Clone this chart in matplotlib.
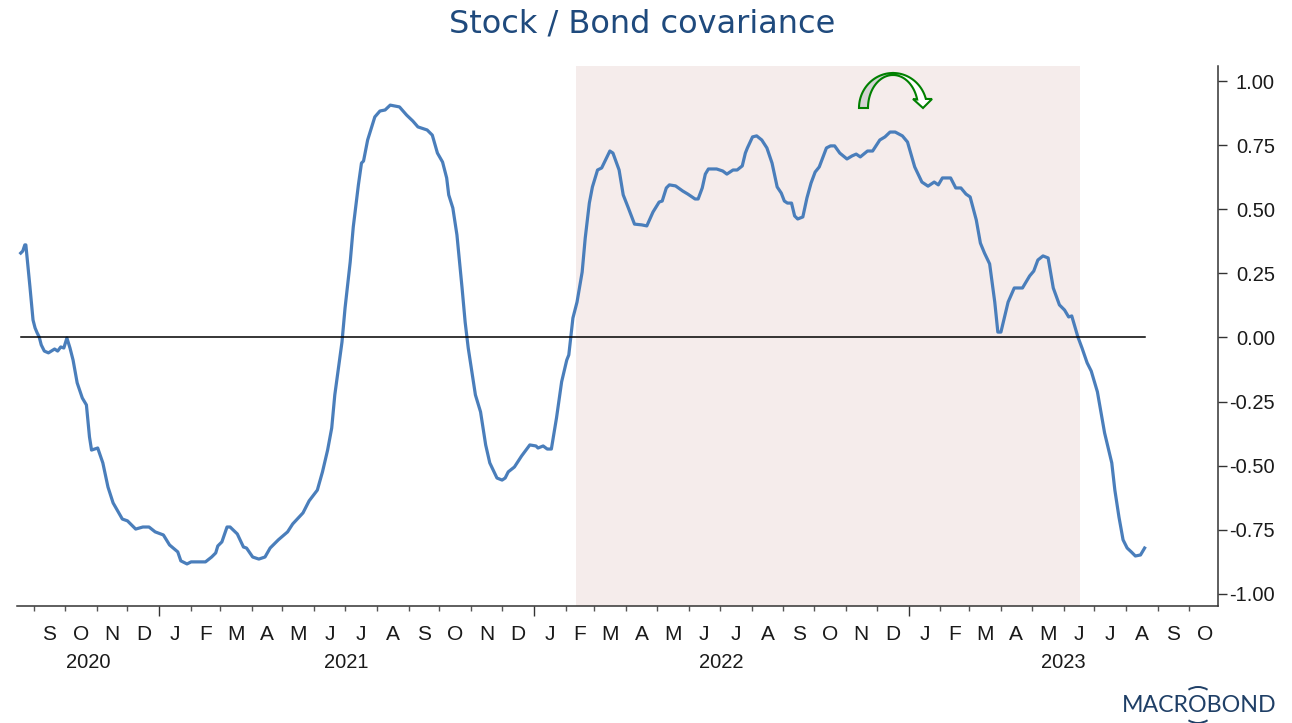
import numpy as np
import pandas as pd
import matplotlib
matplotlib.use("Agg")
import matplotlib.pyplot as plt
import matplotlib.dates as mdates
from matplotlib.patches import Arc, Polygon
from matplotlib.ticker import FixedLocator, FormatStrFormatter
from matplotlib.transforms import blended_transform_factory

plt.rcParams["axes.unicode_minus"] = False

# days counted from 1 Sep 2020, covariance read at each of them
days = [-13, -11, -9, -8, -4, -1, 1, 3, 5, 7, 10, 14, 20, 23, 26, 29, 32, 35, 38, 42, 47, 51, 54, 56, 62,
        67, 72, 77, 86, 91, 99, 106, 112, 118, 126, 132, 140, 143, 149, 153, 167, 173, 177, 179, 183,
        188, 191, 198, 204, 207, 213, 219, 225, 230, 238, 247, 252, 262, 268, 276, 281, 286, 290, 293,
        300, 303, 308, 311, 316, 319, 321, 325, 329, 332, 337, 342, 347, 356, 363, 369, 374, 383, 388,
        393, 398, 402, 404, 408, 412, 417, 420, 423, 430, 435, 440, 444, 451, 456, 459, 462, 468, 475,
        483, 489, 491, 496, 500, 504, 509, 514, 519, 521, 525, 529, 534, 537, 541, 544, 549, 553, 561,
        564, 570, 574, 579, 585, 592, 597, 603, 609, 612, 616, 619, 625, 632, 637, 644, 647, 651, 654,
        657, 665, 671, 675, 681, 685, 690, 693, 695, 700, 704, 709, 714, 719, 724, 728, 731, 734, 738,
        741, 744, 749, 753, 757, 761, 765, 772, 776, 780, 785, 792, 797, 801, 805, 812, 817, 824, 829,
        834, 839, 846, 851, 858, 865, 871, 877, 881, 885, 893, 898, 903, 908, 912, 918, 922, 926, 931,
        936, 939, 942, 949, 955, 963, 970, 974, 978, 983, 988, 993, 999, 1004, 1008, 1011, 1017, 1021,
        1026, 1030, 1036, 1043, 1050, 1053, 1057, 1061, 1065, 1069, 1073, 1078, 1082]
covariance = [0.329, 0.337, 0.361, 0.361, 0.197, 0.068, 0.037, 0.018, 0.002, -0.029, -0.053, -0.060, -0.045,
              -0.053, -0.037, -0.041, -0.002, -0.041, -0.088, -0.177, -0.236, -0.263, -0.388, -0.439, -0.431,
              -0.489, -0.583, -0.645, -0.708, -0.715, -0.747, -0.739, -0.739, -0.758, -0.770, -0.809, -0.836,
              -0.871, -0.883, -0.875, -0.875, -0.856, -0.840, -0.813, -0.797, -0.739, -0.739, -0.766, -0.817,
              -0.821, -0.856, -0.864, -0.856, -0.821, -0.789, -0.758, -0.727, -0.684, -0.637, -0.595, -0.524,
              -0.439, -0.353, -0.224, -0.018, 0.115, 0.294, 0.431, 0.595, 0.680, 0.688, 0.770, 0.821, 0.860,
              0.883, 0.887, 0.906, 0.899, 0.867, 0.844, 0.821, 0.809, 0.789, 0.719, 0.684, 0.622, 0.556, 0.505,
              0.400, 0.193, 0.060, -0.041, -0.224, -0.290, -0.419, -0.489, -0.548, -0.556, -0.548, -0.524,
              -0.505, -0.462, -0.419, -0.423, -0.431, -0.423, -0.435, -0.435, -0.314, -0.173, -0.088, -0.068,
              0.076, 0.138, 0.255, 0.388, 0.524, 0.587, 0.653, 0.661, 0.727, 0.719, 0.653, 0.556, 0.505, 0.442,
              0.439, 0.435, 0.489, 0.528, 0.532, 0.583, 0.595, 0.591, 0.571, 0.559, 0.540, 0.540, 0.583, 0.637,
              0.657, 0.657, 0.649, 0.637, 0.653, 0.653, 0.669, 0.719, 0.739, 0.782, 0.786, 0.770, 0.739, 0.680,
              0.587, 0.563, 0.532, 0.524, 0.524, 0.474, 0.462, 0.470, 0.544, 0.602, 0.645, 0.665, 0.739, 0.747,
              0.747, 0.719, 0.696, 0.708, 0.715, 0.704, 0.727, 0.727, 0.770, 0.782, 0.801, 0.801, 0.786, 0.762,
              0.665, 0.606, 0.590, 0.606, 0.595, 0.622, 0.622, 0.583, 0.583, 0.559, 0.548, 0.458, 0.368, 0.329,
              0.287, 0.138, 0.021, 0.021, 0.138, 0.193, 0.193, 0.240, 0.259, 0.302, 0.318, 0.310, 0.193, 0.127,
              0.107, 0.080, 0.084, 0.002, -0.041, -0.099, -0.131, -0.212, -0.372, -0.489, -0.595, -0.700,
              -0.789, -0.821, -0.836, -0.852, -0.848, -0.821]
y_ticks = [1.00, 0.75, 0.50, 0.25, 0.00, -0.25, -0.50, -0.75, -1.00]
years = [2020, 2021, 2022, 2023]
shade_start = "2022-02-11"
shade_end = "2023-06-17"

BLUE = "#4a7ebb"
NAVY = "#1f4a7d"
LABEL_FONT = "Liberation Sans"

dates = pd.Timestamp("2020-09-01") + pd.to_timedelta(days, unit="D")
x_min = pd.Timestamp("2020-08-15 09:00")
x_max = pd.Timestamp("2023-10-29 12:00")

fig = plt.figure(figsize=(12.92, 7.23), dpi=100)
ax = fig.add_axes([17 / 1292, 1 - 606 / 723, (1218 - 17) / 1292, 540 / 723])

ax.axvspan(pd.Timestamp(shade_start), pd.Timestamp(shade_end), color="#f5eceb", lw=0, zorder=1)
ax.plot(dates, covariance, color=BLUE, lw=2.3, zorder=3, solid_joinstyle="round")
ax.plot([dates[0], dates[-1]], [0, 0], color="black", lw=1.1, zorder=4)

ax.set_xlim(x_min, x_max)
ax.set_ylim(-1.047, 1.0585)

for side in ["top", "left"]:
    ax.spines[side].set_visible(False)
for side in ["bottom", "right"]:
    ax.spines[side].set_color("#333333")
    ax.spines[side].set_linewidth(1.1)

# y axis on the right with right-aligned labels
ax.yaxis.tick_right()
ax.yaxis.set_major_locator(FixedLocator(y_ticks))
ax.yaxis.set_major_formatter(FormatStrFormatter("%.2f"))
ax.tick_params(axis="y", length=6.5, width=1.0, pad=34.5, color="#333333")
for lab in ax.get_yticklabels():
    lab.set_ha("right")
    lab.set_family(LABEL_FONT)
    lab.set_fontsize(14.5)
    lab.set_color("#1a1a1a")

# months as minor ticks, new years as long ones
ax.xaxis.set_major_locator(mdates.YearLocator())
ax.xaxis.set_minor_locator(mdates.MonthLocator())
ax.xaxis.set_major_formatter(plt.NullFormatter())
ax.tick_params(axis="x", which="major", length=7.5, width=1.0, color="#333333")
ax.tick_params(axis="x", which="minor", length=3.5, width=1.0, color="#555555")

trans = blended_transform_factory(ax.transData, ax.transAxes)
month_starts = pd.date_range("2020-09-01", "2023-10-01", freq="MS")
for m in month_starts:
    mid = m + (m + pd.offsets.MonthBegin(1) - m) / 2
    ax.text(mid, -28 / 540, m.strftime("%b")[0], transform=trans, ha="center", va="center",
            family=LABEL_FONT, fontsize=15, color="#1a1a1a")

for yr in years:
    left = max(pd.Timestamp(f"{yr}-01-01"), x_min)
    right = min(pd.Timestamp(f"{yr + 1}-01-01"), x_max)
    ax.text(left + (right - left) / 2, -57 / 540, str(yr), transform=trans, ha="center", va="center",
            family=LABEL_FONT, fontsize=14.5, color="#1a1a1a")

# overlay in pixel units for title, arrow and logo
over = fig.add_axes([0, 0, 1, 1], facecolor="none")
over.set_xlim(0, 1292)
over.set_ylim(723, 0)
over.axis("off")

over.text(642, 33, "Stock / Bond covariance", ha="center", va="baseline", fontsize=23,
          family="DejaVu Sans", color=NAVY)

# curved arrow: grey rising half, white falling half
def ellipse_pts(cx, cy, rx, ry, a0, a1):
    t = np.radians(np.linspace(a0, a1, 40))
    return np.column_stack([cx + rx * np.cos(t), cy - ry * np.sin(t)])

GREEN = "#008000"
rise = np.vstack([ellipse_pts(893, 108, 34, 35, 180, 90), ellipse_pts(893, 108, 25, 33, 90, 180)])
over.add_patch(Polygon(rise, closed=True, fc="#d3d3d3", ec=GREEN, lw=1.5, zorder=5))
outer = ellipse_pts(893, 108, 34, 35, 90, 15)
inner = ellipse_pts(893, 108, 25, 33, 15, 90)
fall = np.vstack([outer, [[932, 99], [923, 108], [913, 99]], inner])
over.add_patch(Polygon(fall, closed=True, fc="white", ec=GREEN, lw=1.5, zorder=5))

over.text(1199.5, 705, "MACROBOND", ha="center", va="center", fontsize=16.7, family="Lato",
          color="#1f3f66")
for mid_angle in [90, 270]:
    # the two arcs around the O of the wordmark
    over.add_patch(Arc((1198, 705), 36, 36, theta1=mid_angle - 32, theta2=mid_angle + 32,
                       color="#1f3f66", lw=1.4))

fig.savefig("out.png", dpi=100)
